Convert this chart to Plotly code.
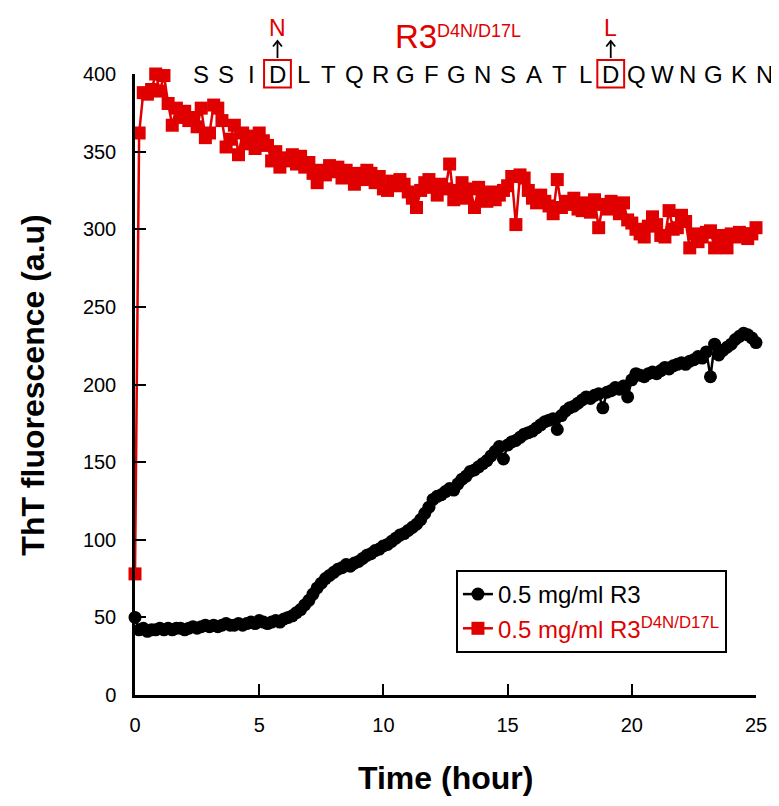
import plotly.graph_objects as go

# ---------------- data ----------------
STEP_MIN = 10  # sampling every 10 minutes
N_POINTS = 151
time_h = [i * STEP_MIN / 60 for i in range(N_POINTS)]

r3_wt = [
    50,
    42, 43, 41, 42, 42, 43,
    42, 43, 42, 43, 43, 42,
    43, 44, 43, 44, 45, 44,
    45, 44, 45, 46, 45, 45,
    46, 45, 46, 47, 46, 48,
    47, 46, 47, 48, 47, 49,
    50, 51, 53, 55, 58, 61,
    65, 69, 72, 75, 77, 79,
    81, 82, 84, 83, 85, 86,
    88, 90, 91, 93, 94, 96,
    97, 99, 101, 103, 104, 106,
    108, 110, 113, 117, 121, 126,
    128, 129, 131, 133, 132, 136,
    139, 141, 144, 145, 147, 149,
    151, 154, 157, 160, 152, 161,
    163, 164, 166, 168, 169, 170,
    172, 174, 176, 177, 178, 171,
    180, 183, 185, 186, 188, 190,
    192, 191, 193, 194, 185, 195,
    196, 198, 197, 199, 192, 203,
    207, 206, 205, 207, 208, 207,
    209, 211, 210, 212, 213, 214,
    213, 215, 216, 218, 217, 221,
    205, 226, 219, 222, 224, 226,
    229, 231, 233, 232, 230, 227,
]

r3_mut = [
    78,
    362, 388, 387, 390, 400, 389,
    399, 381, 367, 378, 372, 376,
    370, 372, 366, 378, 359, 362,
    380, 378, 370, 353, 358, 367,
    348, 362, 355, 360, 352, 362,
    357, 354, 344, 350, 340, 346,
    344, 348, 342, 347, 340, 343,
    336, 330, 338, 335, 341, 337,
    340, 333, 338, 334, 329, 336,
    332, 338, 336, 330, 334, 326,
    325, 331, 328, 332, 329, 324,
    320, 314, 325, 330, 332, 327,
    322, 329, 326, 342, 319, 325,
    330, 320, 326, 314, 327, 320,
    318, 324, 319, 322, 325, 328,
    334, 303, 335, 333, 325, 320,
    317, 322, 318, 315, 310, 332,
    314, 318, 316, 320, 313, 312,
    317, 311, 319, 301, 316, 313,
    318, 314, 310, 317, 306, 304,
    300, 297, 295, 302, 308, 303,
    296, 295, 312, 300, 301, 309,
    305, 288, 297, 292, 295, 298,
    299, 288, 296, 291, 288, 297,
    295, 298, 297, 294, 297, 301,
]

x_ticks = [0, 5, 10, 15, 20, 25]
y_ticks = [0, 50, 100, 150, 200, 250, 300, 350, 400]

name_wt = "0.5 mg/ml R3"
name_mut = '<span style="color:#e00000">0.5 mg/ml R3<sup>D4N/D17L</sup></span>'

sequence = list("SSIDLTQRGFGNSATLDQWNGKN")
mutated_idx = [3, 16]
mutated_to = ["N", "L"]

# ---------------- layout helpers ----------------
OFF = 8  # page body margin
W, H = 779 - OFF, 806 - OFF
L_PX, R_PX, T_PX, B_PX = 135, 760, 74, 695  # positions in the screenshot


def px_x(p):
    return (p - L_PX) / (R_PX - L_PX)


def px_y(p):
    return (B_PX - p) / (B_PX - T_PX)


RED = "#e00000"
FONT = "Liberation Sans, Arial, sans-serif"

fig = go.Figure()
fig.add_trace(go.Scatter(
    x=time_h, y=r3_wt, mode="lines+markers", name=name_wt,
    line=dict(color="black", width=2.5),
    marker=dict(symbol="circle", size=13, color="black"),
    cliponaxis=False,
))
fig.add_trace(go.Scatter(
    x=time_h, y=r3_mut, mode="lines+markers", name=name_mut,
    line=dict(color=RED, width=2.5),
    marker=dict(symbol="square", size=13, color=RED),
    cliponaxis=False,
))

annotations = []
shapes = []

# sequence letters
seq_x0, seq_dx, seq_y = 201, 25.8, 74
for i, ch in enumerate(sequence):
    cx = seq_x0 + i * seq_dx
    annotations.append(dict(
        x=px_x(cx), y=px_y(seq_y), xref="paper", yref="paper",
        text=ch, showarrow=False, xanchor="center", yanchor="middle",
        font=dict(family=FONT, size=24, color="black"),
    ))

for idx, new in zip(mutated_idx, mutated_to):
    cx = seq_x0 + idx * seq_dx
    shapes.append(dict(
        type="rect", xref="paper", yref="paper",
        x0=px_x(cx - 13.5), x1=px_x(cx + 13.5), y0=px_y(87.5), y1=px_y(60),
        line=dict(color=RED, width=2), fillcolor="rgba(0,0,0,0)",
    ))
    # arrow shaft
    shapes.append(dict(
        type="line", xref="paper", yref="paper",
        x0=px_x(cx), x1=px_x(cx), y0=px_y(58), y1=px_y(41),
        line=dict(color="black", width=1.8),
    ))
    # arrow head (open chevron)
    head = "M {:.5f},{:.5f} L {:.5f},{:.5f} L {:.5f},{:.5f}".format(
        px_x(cx - 4.5), px_y(46.5), px_x(cx), px_y(41), px_x(cx + 4.5), px_y(46.5))
    shapes.append(dict(
        type="path", xref="paper", yref="paper", path=head,
        line=dict(color="black", width=1.8),
    ))
    annotations.append(dict(
        x=px_x(cx), y=px_y(28.5), xref="paper", yref="paper",
        text=new, showarrow=False, xanchor="center", yanchor="middle",
        font=dict(family=FONT, size=23, color=RED),
    ))

# title R3^{D4N/D17L}
annotations.append(dict(
    x=px_x(395), y=px_y(37), xref="paper", yref="paper",
    text="R3", showarrow=False, xanchor="left", yanchor="middle",
    font=dict(family=FONT, size=33, color=RED),
))
annotations.append(dict(
    x=px_x(437), y=px_y(31), xref="paper", yref="paper",
    text="D4N/D17L", showarrow=False, xanchor="left", yanchor="middle",
    font=dict(family=FONT, size=18, color=RED),
))

# axis titles
annotations.append(dict(
    x=px_x(448), y=px_y(778), xref="paper", yref="paper",
    text="<b>Time (hour)</b>", showarrow=False, xanchor="center", yanchor="middle",
    font=dict(family=FONT, size=32, color="black"),
))
annotations.append(dict(
    x=px_x(32), y=px_y(385), xref="paper", yref="paper",
    text="<b>ThT fluorescence (a.u)</b>", showarrow=False, textangle=-90,
    xanchor="center", yanchor="middle",
    font=dict(family=FONT, size=32, color="black"),
))

fig.update_layout(
    width=W, height=H,
    margin=dict(l=L_PX - OFF, r=W - (R_PX - OFF), t=T_PX - OFF,
                b=H - (B_PX - OFF), pad=0),
    plot_bgcolor="white", paper_bgcolor="white",
    font=dict(family=FONT, size=20, color="black"),
    showlegend=True,
    legend=dict(
        x=px_x(458), y=px_y(570), xanchor="left", yanchor="top",
        bordercolor="black", borderwidth=2, bgcolor="white",
        font=dict(family=FONT, size=24, color="black"),
        tracegroupgap=0,
    ),
    annotations=annotations,
    shapes=shapes,
)
fig.update_xaxes(
    range=[0, 25], tickvals=x_ticks, ticks="inside", ticklen=11, tickwidth=2,
    tickcolor="black", showline=True, linecolor="black", linewidth=2.5,
    showgrid=False, zeroline=False, ticklabelstandoff=10,
    tickfont=dict(family=FONT, size=20, color="black"),
)
fig.update_yaxes(
    range=[0, 400], tickvals=y_ticks, ticks="inside", ticklen=11, tickwidth=2,
    tickcolor="black", showline=True, linecolor="black", linewidth=2.5,
    showgrid=False, zeroline=False, ticklabelstandoff=12,
    tickfont=dict(family=FONT, size=20, color="black"),
)

fig.write_html("out.html")
